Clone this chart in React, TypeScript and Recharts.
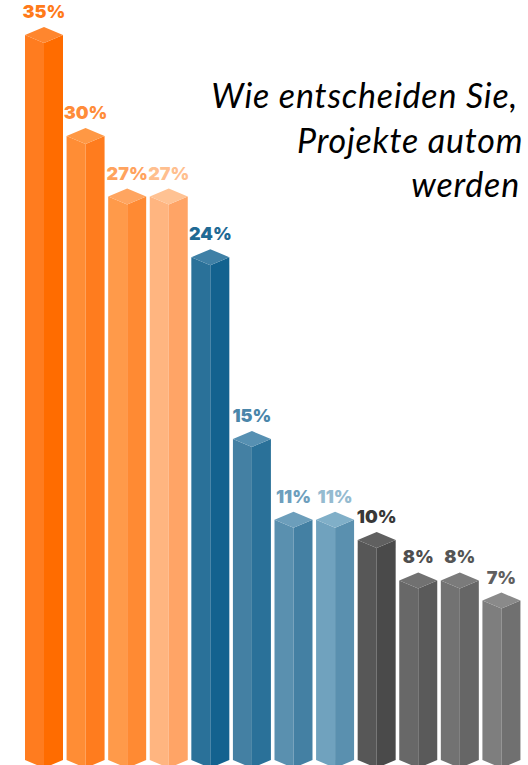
import React from 'react';
import { BarChart, Bar, XAxis, YAxis } from 'recharts';

// answer shares in percent, ordered as in the picture
const categories = ['a1', 'a2', 'a3', 'a4', 'b1', 'b2', 'b3', 'b4', 'c1', 'c2', 'c3', 'c4'];
const shares = [35, 30, 27, 27, 24, 15, 11, 11, 10, 8, 8, 7];
const titleLines = ['Wie entscheiden Sie,', 'Projekte autom', 'werden'];

// face colours: top, left, right, label
const topColors = ['#FF862E', '#FF9844', '#FFA560', '#FFC293', '#3F80A6', '#5690B2', '#6C9EBB', '#80AFC8', '#606060', '#717171', '#7B7B7B', '#8A8A8A'];
const leftColors = ['#FF7C1F', '#FF8D35', '#FF9A4A', '#FFB580', '#2A7199', '#4480A3', '#5A90AF', '#70A2BE', '#575757', '#686868', '#727272', '#7E7E7E'];
const rightColors = ['#FF6C00', '#FF7C1E', '#FF8A33', '#FFA466', '#13628F', '#2A7199', '#4480A3', '#5A90AF', '#4A4A4A', '#5A5A5A', '#666666', '#707070'];
const labelColors = ['#FF7A1A', '#FF8C3A', '#FFA35E', '#FFBF8F', '#1F6A94', '#4A86AA', '#6E9FBD', '#95BBD0', '#383838', '#4F4F4F', '#555555', '#5F5F5F'];

const data = categories.map((c, i) => ({ name: c, value: shares[i] }));

const W = 528;
const H = 765;
const CAP = 8;
const BOTTOM = 760;

const Box3D = (props: any) => {
  const { x, y, width, index, value } = props;
  const xl = x;
  const xr = x + width;
  const xc = x + width / 2;
  const b = BOTTOM;
  return (
    <g>
      <polygon points={`${xl},${y} ${xc},${y + CAP} ${xc},${b + CAP} ${xl},${b}`} fill={leftColors[index]} />
      <polygon points={`${xc},${y + CAP} ${xr},${y} ${xr},${b} ${xc},${b + CAP}`} fill={rightColors[index]} />
      <polygon points={`${xc},${y - CAP} ${xr},${y} ${xc},${y + CAP} ${xl},${y}`} fill={topColors[index]} />
      <text
        x={xc}
        y={y - CAP - 9}
        textAnchor="middle"
        fontFamily="Inter, sans-serif"
        fontWeight={900}
        fontSize={18}
        fill={labelColors[index]}
      >
        {`${Array.isArray(value) ? value[1] : value}%`}
      </text>
    </g>
  );
};

const titleStyle = { fontFamily: 'Lato, sans-serif', fontStyle: 'italic', fontSize: 34, letterSpacing: 0.8 };

const App = () => {
  return (
    <div style={{ position: 'absolute', left: 0, top: 0, width: W, height: H, overflow: 'hidden', background: '#fff' }}>
      <BarChart width={W} height={H} data={data} margin={{ top: 35, right: 6, bottom: 23, left: 23 }} barSize={38}>
        <XAxis dataKey="name" hide />
        <YAxis domain={[0, 35]} hide />
        <Bar dataKey="value" shape={<Box3D />} isAnimationActive={false} />
        <text x={518} y={108} textAnchor="end" style={titleStyle} fill="#000">
          {titleLines[0]}
        </text>
        <text x={297} y={153} textAnchor="start" style={titleStyle} fill="#000">
          {titleLines[1]}
        </text>
        <text x={520} y={197} textAnchor="end" style={titleStyle} fill="#000">
          {titleLines[2]}
        </text>
      </BarChart>
    </div>
  );
};

export default App;
